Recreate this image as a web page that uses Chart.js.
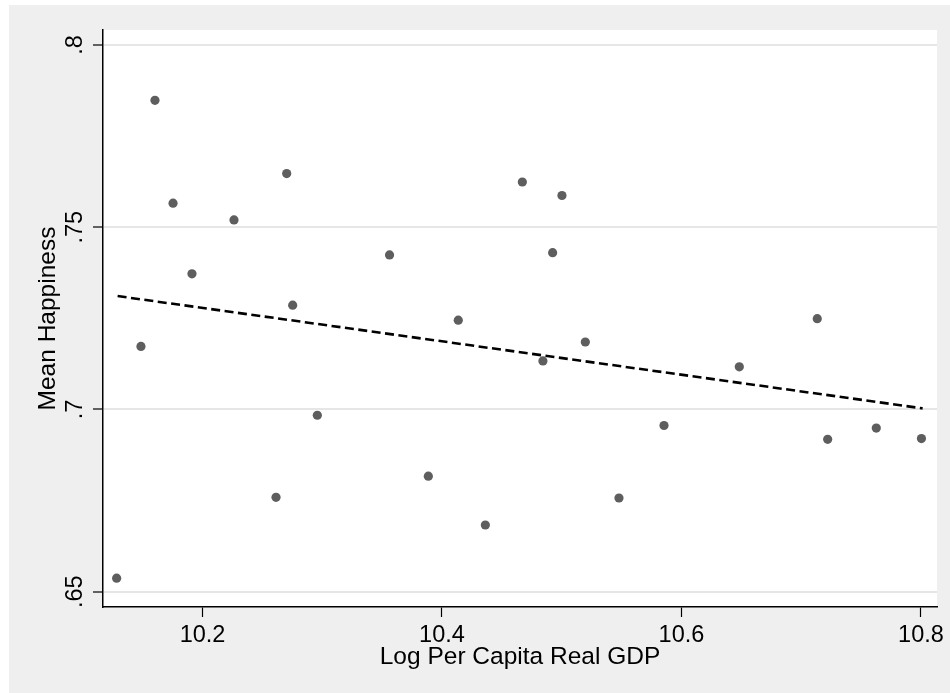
<!DOCTYPE html>
<html>
<head>
<meta charset="utf-8">
<script src="https://cdn.jsdelivr.net/npm/chart.js@4.4.1/dist/chart.umd.min.js"></script>
<style>
  html, body { margin: 0; padding: 0; background: #ffffff; }
  #wrap { position: absolute; left: 9px; top: 5px; width: 941px; height: 688px; }
  #chart { background: #efefef; display: block; }
</style>
</head>
<body>
<div id="wrap"><canvas id="chart" width="941" height="688"></canvas></div>
<script>
// values
const logGdp = [10.1283, 10.1486, 10.1603, 10.1754, 10.1912, 10.2263, 10.2614, 10.2703, 10.2753,
  10.2959, 10.3562, 10.3886, 10.4136, 10.4362, 10.4671, 10.4843, 10.4924, 10.5002, 10.5197,
  10.5478, 10.5854, 10.6483, 10.7134, 10.7221, 10.7627, 10.8004];
const meanHappiness = [0.6537, 0.7173, 0.7848, 0.7566, 0.7372, 0.7520, 0.6759, 0.7647, 0.7286,
  0.6984, 0.7424, 0.6817, 0.7245, 0.6683, 0.7624, 0.7133, 0.7430, 0.7587, 0.7185,
  0.6757, 0.6956, 0.7117, 0.7249, 0.6918, 0.6949, 0.6920];

// fitted line end points
const fitX = [10.1291, 10.8014];
const fitY = [0.7311, 0.7003];

const xTicks = [10.2, 10.4, 10.6, 10.8];
const xTickLabels = ['10.2', '10.4', '10.6', '10.8'];
const yTicks = [0.65, 0.7, 0.75, 0.8];
const yTickLabels = ['.65', '.7', '.75', '.8'];

const xTitle = 'Log Per Capita Real GDP';
const yTitle = 'Mean Happiness';

const FONT = '"Liberation Sans", Arial, sans-serif';

// white plot region on the grey graph background
const plotBg = {
    id: 'plotBg',
    beforeDraw: function (chart) {
        const a = chart.chartArea;
        const ctx = chart.ctx;
        ctx.save();
        ctx.fillStyle = '#ffffff';
        ctx.fillRect(a.left, a.top, a.right - a.left, a.bottom - a.top);
        ctx.restore();
    }
};

new Chart(document.getElementById('chart'), {
    type: 'scatter',
    data: {
        datasets: [
            {
                data: logGdp.map(function (x, i) { return { x: x, y: meanHappiness[i] }; }),
                backgroundColor: '#5e5e5e',
                borderWidth: 0,
                pointRadius: 4.6,
                pointHoverRadius: 4.6
            },
            {
                data: fitX.map(function (x, i) { return { x: x, y: fitY[i] }; }),
                showLine: true,
                borderColor: '#000000',
                borderWidth: 2.6,
                borderDash: [9, 4.5],
                pointRadius: 0,
                fill: false
            }
        ]
    },
    options: {
        responsive: false,
        animation: false,
        devicePixelRatio: 1,
        layout: { padding: { left: 0, top: 25, right: 13, bottom: 0 } },
        plugins: {
            legend: { display: false },
            tooltip: { enabled: false }
        },
        scales: {
            x: {
                type: 'linear',
                min: 10.1169,
                max: 10.8134,
                afterBuildTicks: function (s) { s.ticks = xTicks.map(function (v) { return { value: v }; }); },
                afterFit: function (s) { s.height = 86; },
                ticks: {
                    autoSkip: false,
                    maxRotation: 0,
                    padding: 4,
                    color: '#000000',
                    font: { family: FONT, size: 23.5 },
                    callback: function (v) { return xTickLabels[xTicks.indexOf(v)]; }
                },
                grid: {
                    drawOnChartArea: false,
                    tickLength: 10,
                    tickColor: '#000000',
                    tickWidth: 1.2
                },
                border: { display: true, color: '#000000', width: 1.5 },
                title: {
                    display: true,
                    text: xTitle,
                    color: '#000000',
                    font: { family: FONT, size: 24.5 },
                    padding: { top: 0, bottom: 21 }
                }
            },
            y: {
                type: 'linear',
                min: 0.6458,
                max: 0.8041,
                afterBuildTicks: function (s) { s.ticks = yTicks.map(function (v) { return { value: v }; }); },
                afterFit: function (s) { s.width = 94; },
                ticks: {
                    autoSkip: false,
                    minRotation: 90,
                    maxRotation: 90,
                    crossAlign: 'center',
                    padding: 1,
                    color: '#000000',
                    font: { family: FONT, size: 23.5 },
                    callback: function (v) { return yTickLabels[yTicks.indexOf(v)]; }
                },
                grid: {
                    color: '#e6e6e6',
                    lineWidth: 2,
                    tickLength: 10,
                    tickColor: '#000000',
                    tickWidth: 1.2
                },
                border: { display: true, color: '#000000', width: 1.5 },
                title: {
                    display: true,
                    text: yTitle,
                    color: '#000000',
                    font: { family: FONT, size: 24.5 },
                    padding: { top: 25, bottom: 0 }
                }
            }
        }
    },
    plugins: [plotBg]
});
</script>
</body>
</html>
